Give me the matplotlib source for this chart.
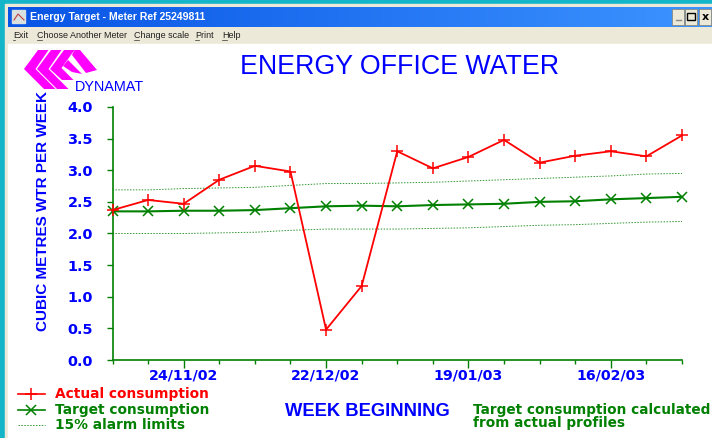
import numpy as np
import matplotlib
matplotlib.use('Agg')
import matplotlib.pyplot as plt
from matplotlib.patches import Polygon, Rectangle

# values
weeks = list(range(17))
actual = [2.37, 2.53, 2.47, 2.85, 3.07, 2.98, 0.48, 1.17, 3.30, 3.03, 3.21, 3.48, 3.12, 3.23, 3.30, 3.22, 3.55]
target = [2.35, 2.35, 2.36, 2.36, 2.37, 2.40, 2.43, 2.44, 2.43, 2.45, 2.46, 2.47, 2.50, 2.51, 2.54, 2.56, 2.58]
upper = [2.69, 2.69, 2.71, 2.72, 2.73, 2.76, 2.79, 2.79, 2.80, 2.81, 2.83, 2.85, 2.87, 2.89, 2.91, 2.94, 2.95]
lower = [2.00, 2.00, 2.00, 2.01, 2.02, 2.05, 2.07, 2.07, 2.07, 2.08, 2.09, 2.11, 2.13, 2.14, 2.16, 2.18, 2.19]
date_pos = [2, 6, 10, 14]
date_labels = ['24/11/02', '22/12/02', '19/01/03', '16/02/03']
y_ticks = [0.0, 0.5, 1.0, 1.5, 2.0, 2.5, 3.0, 3.5, 4.0]

BLUE = '#0000ff'
GREEN = '#008000'
LIGHT_GREEN = '#2f962f'
RED = '#ff0000'
W, H = 712, 438

fig = plt.figure(figsize=(W / 100, H / 100), dpi=100)

# window chrome, drawn in pixel coordinates
bg = fig.add_axes([0, 0, 1, 1])
bg.set_xlim(0, W)
bg.set_ylim(H, 0)
bg.axis('off')
bg.add_patch(Rectangle((0, 0), W, H, color='#15b5c9'))
bg.add_patch(Rectangle((5, 4), W, H, color='#ece9d8'))
bg.add_patch(Rectangle((8, 44), W, H, color='white'))
grad = np.linspace(0, 1, 256).reshape(1, -1, 1)
bar = np.array([0.03, 0.33, 0.90]) * (1 - grad) + np.array([0.24, 0.58, 1.0]) * grad
bg.imshow(bar, extent=(8, W, 27, 7), aspect='auto', zorder=2)
bg.set_xlim(0, W)
bg.set_ylim(H, 0)
bg.add_patch(Rectangle((12, 10), 13, 13, color='#d8e0e0', zorder=3))
bg.plot([14, 18, 21, 24], [20, 14, 17, 20], color='#c04040', lw=0.8, zorder=4)
bg.text(30, 17.5, 'Energy Target - Meter Ref 25249811', color='white', fontsize=7.6,
        family='Liberation Sans', weight='bold', va='center', zorder=4)

for x0 in [672, 685, 699]:
    bg.add_patch(Rectangle((x0, 9), 12, 16, facecolor='#ece9d8', edgecolor='#8a8a80', lw=0.6, zorder=3))
bg.plot([676, 681], [20, 20], color='#888888', lw=1, zorder=4)
bg.add_patch(Rectangle((687, 13), 8, 7, fill=False, edgecolor='black', lw=1, zorder=4))
bg.text(705, 17, 'x', color='black', fontsize=8, weight='bold', ha='center', va='center', zorder=4)

menu_items = [('Exit', 13, 2), ('Choose Another Meter', 37, 5), ('Change scale', 134, 5), ('Print', 195, 4), ('Help', 222, 5)]
for name, x0, ul in menu_items:
    bg.text(x0, 35, name, color='#202020', fontsize=6.5, family='Liberation Sans', va='center', zorder=4)
    bg.plot([x0, x0 + ul], [39.5, 39.5], color='#303030', lw=0.5, zorder=4)

# logo
chevrons = [
    [(38, 50), (48.5, 50), (35.5, 69), (55.5, 89), (44, 89), (24, 69)],
    [(51, 50), (61.5, 50), (48.5, 69), (68.5, 89), (57, 89), (37, 69)],
    [(64, 50), (74.5, 50), (61.5, 68), (73.5, 80), (62, 80), (50, 69)],
]
for pts in chevrons:
    bg.add_patch(Polygon(pts, facecolor='#ff00ff', edgecolor='none', zorder=3))
bg.add_patch(Polygon([(74.5, 50), (80, 50), (97, 70), (86, 73), (72, 55)], facecolor='#ff00ff', edgecolor='none', zorder=3))
bg.add_patch(Polygon([(68, 60), (76, 68), (82, 74), (72, 72), (63, 66)], facecolor='#ff00ff', edgecolor='none', zorder=3))
bg.text(75, 87, 'DYNAMAT', color=BLUE, fontsize=10.4, family='Liberation Sans', va='center', zorder=4)

# chart
ax = fig.add_axes([112.5 / W, 1 - 360 / H, (682 - 112.5) / W, (360 - 107) / H])
ax.patch.set_alpha(0)
ax.plot(weeks, upper, color=LIGHT_GREEN, lw=0.7, ls=(0, (1.5, 1.5)))
ax.plot(weeks, lower, color=LIGHT_GREEN, lw=0.7, ls=(0, (1.5, 1.5)))
ax.plot(weeks, target, color=GREEN, lw=1.5, marker='x', ms=6.5, mew=1.1, clip_on=False, zorder=3)
ax.plot(weeks, actual, color=RED, lw=1.3, marker='+', ms=9, mew=1.1, clip_on=False, zorder=4)

ax.set_xlim(0, 16)
ax.set_ylim(0, 4)
ax.spines['top'].set_visible(False)
ax.spines['right'].set_visible(False)
ax.spines['left'].set_color(GREEN)
ax.spines['bottom'].set_color(GREEN)
ax.spines['left'].set_linewidth(1.2)
ax.spines['bottom'].set_linewidth(1.2)

ax.set_xticks(weeks, minor=True)
ax.tick_params(axis='x', which='minor', length=3, width=1, color=GREEN)
ax.set_xticks(date_pos)
ax.set_xticklabels(date_labels, color=BLUE, fontsize=10.2, weight='bold', family='DejaVu Sans')
ax.tick_params(axis='x', which='major', length=6, width=1, color=GREEN, pad=0)
ax.set_yticks(y_ticks)
ax.set_yticklabels(['%.1f' % v for v in y_ticks], color=BLUE, fontsize=10.4, weight='bold', family='DejaVu Sans')
ax.tick_params(axis='y', length=4.3, width=1, color=GREEN, pad=9.7)

# text around the chart
bg.text(400, 67, 'ENERGY OFFICE WATER', color=BLUE, fontsize=19.3, family='Liberation Sans',
        ha='center', va='center', zorder=4)
bg.text(43, 211, 'CUBIC METRES WTR PER WEEK', color=BLUE, fontsize=11, weight='bold', family='Liberation Sans',
        rotation=90, ha='center', va='center', zorder=4)
bg.text(367.5, 412, 'WEEK BEGINNING', color=BLUE, fontsize=13.2, weight='bold', family='Liberation Sans',
        ha='center', va='center', zorder=4)

# legend by hand so it sits where the original has it
bg.plot([18, 45], [394, 394], color=RED, lw=1.2, zorder=4)
bg.plot([31], [394], color=RED, marker='+', ms=9, mew=1.1, zorder=4)
bg.plot([18, 45], [410, 410], color=GREEN, lw=1.2, zorder=4)
bg.plot([31], [410], color=GREEN, marker='x', ms=6.5, mew=1.1, zorder=4)
bg.plot([18, 45], [425, 425], color=LIGHT_GREEN, lw=0.7, ls=(0, (1.5, 1.5)), zorder=4)
for txt, y0, c in [('Actual consumption', 394, RED), ('Target consumption', 410, GREEN), ('15% alarm limits', 425, GREEN)]:
    bg.text(55, y0, txt, color=c, fontsize=9.9, weight='bold', family='DejaVu Sans', va='center', zorder=4)
bg.text(473, 410, 'Target consumption calculated', color=GREEN, fontsize=9.8, weight='bold',
        family='DejaVu Sans', va='center', zorder=4)
bg.text(473, 423, 'from actual profiles', color=GREEN, fontsize=9.8, weight='bold',
        family='DejaVu Sans', va='center', zorder=4)

fig.savefig('out.png', dpi=100)
